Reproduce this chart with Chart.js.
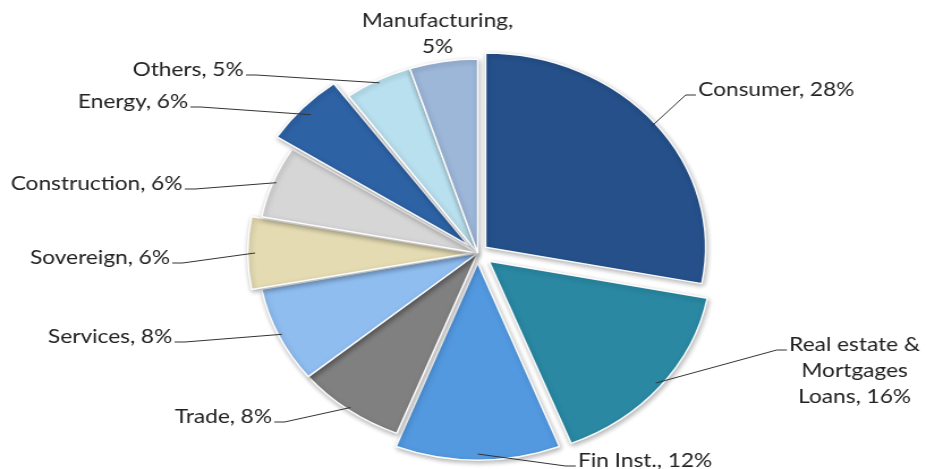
<!DOCTYPE html>
<html>
<head>
<meta charset="utf-8">
<script src="https://cdn.jsdelivr.net/npm/chart.js@4.4.1/dist/chart.umd.min.js"></script>
<style>
  html, body { margin: 0; padding: 0; background: #fff; overflow: hidden; }
  #wrap { width: 817px; height: 469px; transform: scaleX(1.1334); transform-origin: 0 0; }
</style>
</head>
<body>
<div id="wrap"><canvas id="ShowChart" width="817" height="469"></canvas></div>
<script>
// sector shares, clockwise from 12 o'clock
var Sectors = ["Consumer", "Real estate & Mortgages Loans", "Fin Inst.", "Trade", "Services",
  "Sovereign", "Construction", "Energy", "Others", "Manufacturing"]
var Shares = [28, 16, 12, 8, 8, 6, 6, 6, 5, 5]
var Label_Lines = [
  ["Consumer, 28%"],
  ["Real estate &", "Mortgages", "Loans, 16%"],
  ["Fin Inst., 12%"],
  ["Trade, 8%"],
  ["Services, 8%"],
  ["Sovereign, 6%"],
  ["Construction, 6%"],
  ["Energy, 6%"],
  ["Others, 5%"],
  ["Manufacturing,", "5%"]
]
var Slice_Colors = ["#25508a", "#2a88a3", "#5399e0", "#808080", "#8fbdf0",
  "#e4dbb3", "#d6d6d6", "#2d62a5", "#b9e0ef", "#9db7d9"]
// chart.js moves a slice out by offset/4 px
var Slice_Offsets = [36, 52, 40, 0, 0, 22, 0, 44, 0, 0]

// where each label text sits: [x, middle y, align, leader?]
var Label_Layout = [
  [616, 90, "left", true],
  [754, 345, "center", true],
  [510, 461, "left", true],
  [240, 417, "right", true],
  [152, 337, "right", true],
  [150, 258, "right", true],
  [161, 184, "right", true],
  [166, 102, "right", true],
  [215, 70, "right", true],
  [386, 21, "center", false]
]

var labelPlugin = {
  id: "sliceLabels",
  beforeDatasetsDraw: function(chart){
    var c = chart.ctx
    c.save()
    c.shadowColor = "rgba(0,0,0,0.3)"
    c.shadowBlur = 5
    c.shadowOffsetX = 1
    c.shadowOffsetY = 2
  },
  afterDatasetsDraw: function(chart){
    var c = chart.ctx
    c.restore()
    var arcs = chart.getDatasetMeta(0).data
    c.save()
    c.font = "20px Lato"
    c.fillStyle = "#222"
    c.strokeStyle = "#333"
    c.lineWidth = 1
    c.textBaseline = "middle"
    for (var i = 0; i < arcs.length; i++){
      var a = arcs[i]
      var p = a.getProps(["x", "y", "startAngle", "endAngle", "outerRadius"], true)
      var mid = (p.startAngle + p.endAngle) / 2
      var off = (a.options.offset || 0) / 4
      var r = p.outerRadius + off - 3
      var ax = p.x + Math.cos(mid) * r
      var ay = p.y + Math.sin(mid) * r
      var L = Label_Layout[i], lines = Label_Lines[i]
      var tx = L[0], ty = L[1], align = L[2]
      var lineH = 26
      if (L[3]){
        var w = c.measureText(lines[0]).width
        var ex, ey = ty + 5, hx
        if (align == "right"){ ex = tx + 2; hx = ex + 9 }
        else if (align == "left"){ ex = tx - 2; hx = ex - 9 }
        else { ex = tx - w / 2 - 2; hx = ex - 9 }
        c.beginPath()
        c.moveTo(ax, ay)
        c.lineTo(hx, ey)
        c.lineTo(ex, ey)
        c.stroke()
      }
      c.textAlign = align
      for (var k = 0; k < lines.length; k++){
        c.fillText(lines[k], tx, ty + k * lineH)
      }
    }
    c.restore()
  }
}

var ctx = document.getElementById("ShowChart").getContext("2d")
var ChartObject = new Chart(ctx, {
  type: "pie",
  data: {
    labels: Sectors,
    datasets: [{
      data: Shares,
      backgroundColor: Slice_Colors,
      borderColor: "rgba(255,255,255,0.95)",
      borderWidth: 1.5,
      offset: Slice_Offsets,
      radius: 194
    }]
  },
  options: {
    responsive: false,
    animation: false,
    layout: { padding: { left: 26, top: 37, right: 0, bottom: 0 } },
    plugins: {
      legend: { display: false },
      tooltip: { enabled: false }
    }
  },
  plugins: [labelPlugin]
})
</script>
</body>
</html>
